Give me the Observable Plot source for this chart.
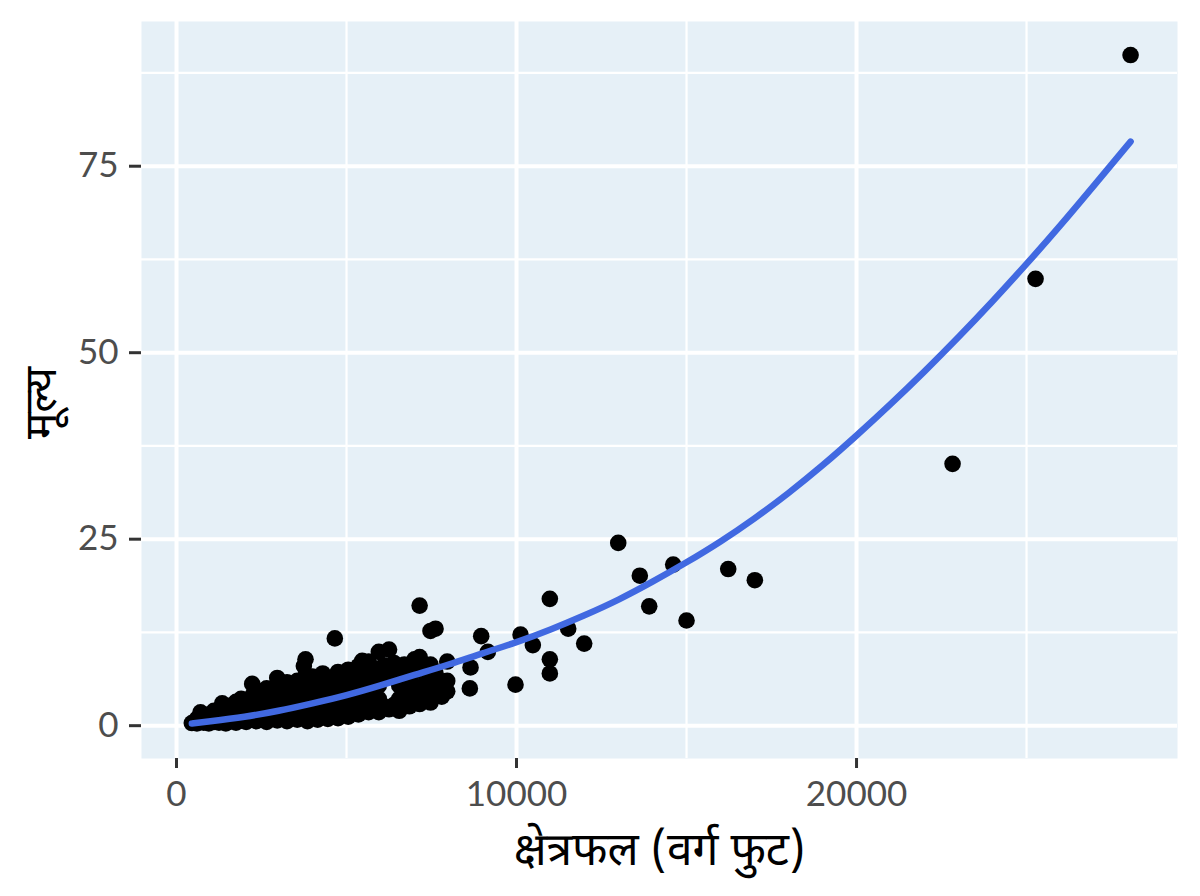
<!DOCTYPE html>
<html>
<head>
<meta charset="utf-8">
<script src="https://cdn.jsdelivr.net/npm/d3@7"></script>
<script src="https://cdn.jsdelivr.net/npm/@observablehq/plot@0.6"></script>
<style>
  html, body { margin: 0; padding: 0; background: #ffffff; }
  #chart { width: 1200px; height: 896px; }
</style>
</head>
<body>
<div id="chart"></div>
<script>
// Scatter data: area (sq ft) and price
const area = [
  450, 600, 600, 706, 706, 800, 800, 950, 950, 950,
  1100, 1100, 1100, 1250, 1250, 1250, 1344, 1344, 1344, 1450, 1450, 1450,
  1600, 1600, 1600, 1750, 1750, 1750, 1750, 1900, 1900, 1900, 1900,
  2050, 2050, 2050, 2050, 2226, 2226, 2226, 2226, 2350, 2350, 2350, 2350,
  2500, 2500, 2500, 2500, 2650, 2650, 2650, 2650, 2650, 2800, 2800, 2800, 2800,
  2962, 2962, 2962, 2962, 2962, 2962, 3100, 3100, 3100, 3100,
  3250, 3250, 3250, 3250, 3250, 3400, 3400, 3400, 3400,
  3550, 3550, 3550, 3550, 3550, 3700, 3700, 3700, 3700, 3745, 3794, 3794,
  3850, 3850, 3850, 3850, 4000, 4000, 4000, 4000, 4000, 4150, 4150, 4150, 4150,
  4300, 4300, 4300, 4300, 4300, 4450, 4450, 4450, 4450, 4600, 4600, 4600, 4600, 4656,
  4750, 4750, 4750, 4750, 4750, 4900, 4900, 4900, 4900,
  5050, 5050, 5050, 5050, 5050, 5200, 5200, 5200, 5200,
  5350, 5350, 5350, 5350, 5350, 5461, 5500, 5500, 5500, 5500,
  5650, 5650, 5650, 5650, 5650, 5800, 5800, 5800, 5800,
  5950, 5950, 5950, 5950, 5950, 6100, 6100, 6100, 6250, 6250, 6250,
  6400, 6400, 6400, 6550, 6550, 6550, 6550, 6700, 6700, 6700, 6700,
  6850, 6850, 6850, 6850, 7000, 7000, 7000, 7000, 7150, 7150, 7150, 7150,
  7300, 7300, 7300, 7470, 7470, 7470, 7470, 7618, 7618, 7618, 7800, 7800,
  7961, 7961, 7961, 8627, 8647, 8961, 9157, 9970, 10118, 10480,
  10980, 10980, 10980, 11520, 11990, 12991, 13626, 13903, 14608, 15000,
  16226, 17009, 22824, 25265, 28060
];
const price = [
  0.35, 0.3, 0.9, 1.8, 0.5, 0.4, 1.1, 0.3, 0.8, 1.5,
  0.5, 1.2, 2.0, 0.4, 1.0, 1.7, 3.0, 2.2, 0.7, 0.3, 1.3, 2.4,
  0.6, 1.6, 2.7, 0.4, 1.1, 2.1, 3.2, 0.7, 1.8, 2.9, 3.6,
  0.5, 1.3, 2.4, 3.4, 5.6, 4.0, 0.8, 2.0, 0.6, 1.5, 2.8, 4.2,
  0.9, 2.1, 3.3, 4.6, 0.5, 1.6, 2.7, 3.9, 5.0, 1.0, 2.3, 3.5, 4.8,
  6.4, 5.4, 0.7, 1.8, 3.0, 4.2, 1.1, 2.5, 3.8, 5.0,
  0.6, 1.9, 3.2, 4.5, 5.8, 1.2, 2.6, 3.9, 5.3,
  0.8, 2.0, 3.4, 4.7, 6.0, 1.3, 2.8, 4.2, 5.5, 8.0, 8.9, 6.7,
  0.6, 2.1, 3.6, 4.9, 1.4, 3.0, 4.4, 5.8, 6.6, 0.8, 2.3, 3.8, 5.2,
  1.5, 3.1, 4.6, 6.1, 7.0, 0.9, 2.5, 4.0, 5.5, 1.6, 3.3, 4.9, 6.4, 11.7,
  1.0, 2.7, 4.3, 5.8, 7.2, 1.7, 3.5, 5.1, 6.6,
  1.2, 2.9, 4.6, 6.1, 7.5, 1.9, 3.7, 5.4, 7.0,
  1.5, 3.2, 4.9, 6.5, 8.0, 8.7, 2.2, 4.0, 5.7, 7.3,
  1.8, 3.4, 5.1, 6.8, 8.6, 2.4, 4.2, 6.0, 7.7,
  1.8, 3.6, 5.4, 7.2, 9.9, 2.6, 6.3, 8.1, 2.2, 7.5, 10.2,
  2.8, 6.6, 8.4, 2.0, 3.6, 5.4, 7.4, 3.0, 4.9, 6.9, 8.2,
  2.6, 4.2, 6.0, 7.8, 3.3, 5.2, 7.2, 8.9, 2.9, 4.6, 9.2, 16.1,
  3.6, 5.6, 7.6, 3.1, 12.7, 6.4, 8.2, 13.0, 4.8, 7.0, 3.9, 5.9,
  8.6, 6.0, 4.6, 5.0, 7.8, 12.0, 9.9, 5.5, 12.2, 10.8,
  17.0, 8.9, 7.0, 13.0, 11.0, 24.5, 20.1, 16.0, 21.6, 14.1,
  21.0, 19.5, 35.1, 59.9, 89.9
];

// Fitted trend curve
const fitArea  = [450, 1000, 2000, 3000, 4000, 5000, 6000, 7000, 8000, 9000, 10000, 11000, 12000, 13000, 14000, 15000, 16000, 17000, 18000, 19000, 20000, 21000, 22000, 23000, 24000, 25000, 26000, 27000, 28060];
const fitPrice = [0.3, 0.6, 1.2, 2.0, 3.0, 4.1, 5.4, 6.8, 8.2, 9.7, 11.2, 12.9, 14.8, 16.9, 19.3, 21.9, 24.7, 27.8, 31.2, 34.9, 38.9, 43.1, 47.5, 52.1, 56.9, 61.9, 67.1, 72.5, 78.3];

const xTicks = [0, 10000, 20000];
const xMinor = [5000, 15000, 25000];
const yTicks = [0, 25, 50, 75];
const yMinor = [12.5, 37.5, 62.5, 87.5];

const xTitle = "क्षेत्रफल (वर्ग फुट)";
const yTitle = "मूल्य";

const points = area.map((a, i) => ({area: a, price: price[i]}));
const fit = fitArea.map((a, i) => ({area: a, price: fitPrice[i]}));

const chart = Plot.plot({
  width: 1200,
  height: 896,
  marginLeft: 141,
  marginRight: 23,
  marginTop: 21,
  marginBottom: 138,
  style: {fontFamily: "Lato, 'Noto Sans', sans-serif", background: "#ffffff"},
  x: {domain: [-1030, 29440]},
  y: {domain: [-4.4, 94.4]},
  marks: [
    Plot.frame({fill: "#E6F0F7", stroke: null}),
    Plot.gridX(xMinor, {stroke: "#ffffff", strokeOpacity: 1, strokeWidth: 2.2}),
    Plot.gridY(yMinor, {stroke: "#ffffff", strokeOpacity: 1, strokeWidth: 2.2}),
    Plot.gridX(xTicks, {stroke: "#ffffff", strokeOpacity: 1, strokeWidth: 4}),
    Plot.gridY(yTicks, {stroke: "#ffffff", strokeOpacity: 1, strokeWidth: 4}),
    Plot.dot(points, {x: "area", y: "price", r: 8.3, fill: "#000000", stroke: null}),
    Plot.line(fit, {x: "area", y: "price", stroke: "#4169E1", strokeWidth: 6.5, curve: "natural"}),
    Plot.axisX(xTicks, {
      tickSize: 10, tickPadding: 13, strokeWidth: 3, stroke: "#333333", fill: "#4D4D4D",
      fontSize: 35, tickFormat: d => String(d), label: null
    }),
    Plot.axisY(yTicks, {
      tickSize: 12, tickPadding: 11, strokeWidth: 3, stroke: "#333333", fill: "#4D4D4D",
      fontSize: 35, tickFormat: d => String(d), label: null
    }),
    Plot.text([xTitle], {
      frameAnchor: "bottom", dy: 92, text: d => d, fontSize: 46, fill: "#000000", textAnchor: "middle",
      fontFamily: "'Noto Sans Devanagari', 'Noto Sans', Lato, sans-serif", lineAnchor: "middle"
    }),
    Plot.text([yTitle], {
      frameAnchor: "left", dx: -100, dy: 13, rotate: -90, text: d => d, fontSize: 44, fill: "#000000", textAnchor: "middle",
      fontFamily: "'Noto Sans Devanagari', 'Noto Sans', Lato, sans-serif", lineAnchor: "middle"
    })
  ]
});

document.getElementById("chart").appendChild(chart);
</script>
</body>
</html>
